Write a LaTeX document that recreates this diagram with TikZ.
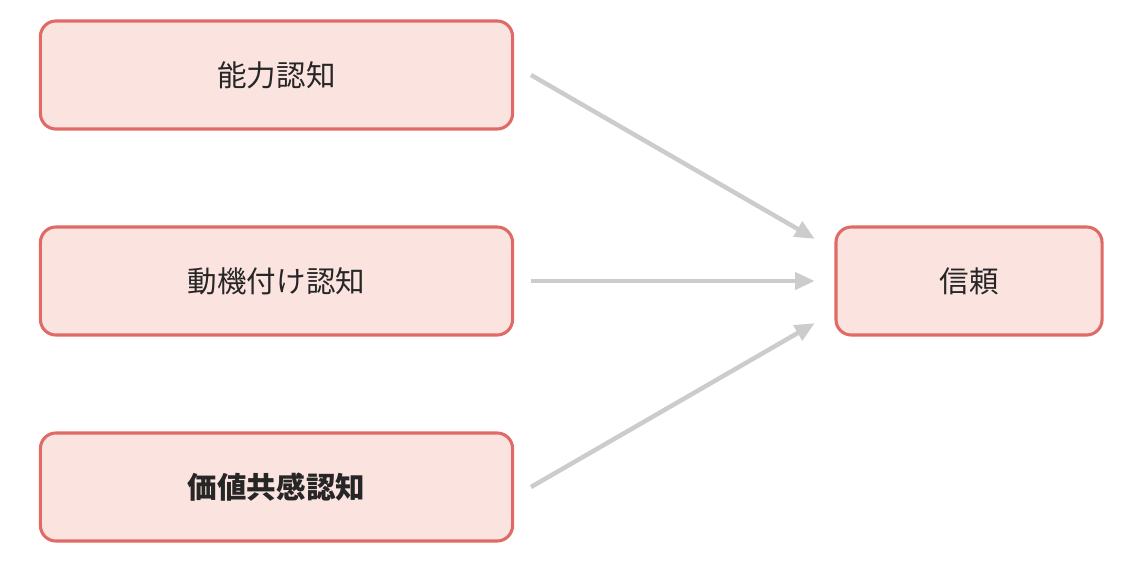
\documentclass[tikz,border=0pt]{standalone}
\usepackage{fontspec}
\newfontfamily\cjk{Noto Sans CJK JP}
\usetikzlibrary{calc,arrows.meta}
\definecolor{boxline}{HTML}{E06B66}
\definecolor{boxfill}{HTML}{FBE4E0}
\definecolor{arrgray}{HTML}{CCCCCC}
\tikzset{
  factor/.style={draw=boxline,fill=boxfill,line width=2.2pt,rounded corners=11pt,
    minimum width=11.8cm,minimum height=2.7cm,font=\cjk\fontsize{21}{25}\selectfont,text=black!85},
  goal/.style={factor,minimum width=6.65cm},
  link/.style={arrgray,line width=3.2pt,-{Triangle[length=14pt,width=12pt]}}
}

\begin{document}
\begin{tikzpicture}[x=0.025cm,y=-0.025cm]
  \useasboundingbox (0,0) rectangle (1144,566);
  \node[factor] (ability) at (276.5,75) {能力認知};
  \node[factor] (motive) at (276.5,281) {動機付け認知};
  \node[factor,font=\cjk\bfseries\fontsize{21}{25}\selectfont] (value) at (276.5,487) {価値共感認知};
  \node[goal] (trust) at (969,281) {信頼};
  % arrows into trust
  \draw[link] ([xshift=12pt]ability.east) -- ([xshift=-14pt,yshift=30pt]trust.west);
  \draw[link] ([xshift=12pt]motive.east) -- ([xshift=-14pt]trust.west);
  \draw[link] ([xshift=12pt]value.east) -- ([xshift=-14pt,yshift=-30pt]trust.west);
\end{tikzpicture}
\end{document}
